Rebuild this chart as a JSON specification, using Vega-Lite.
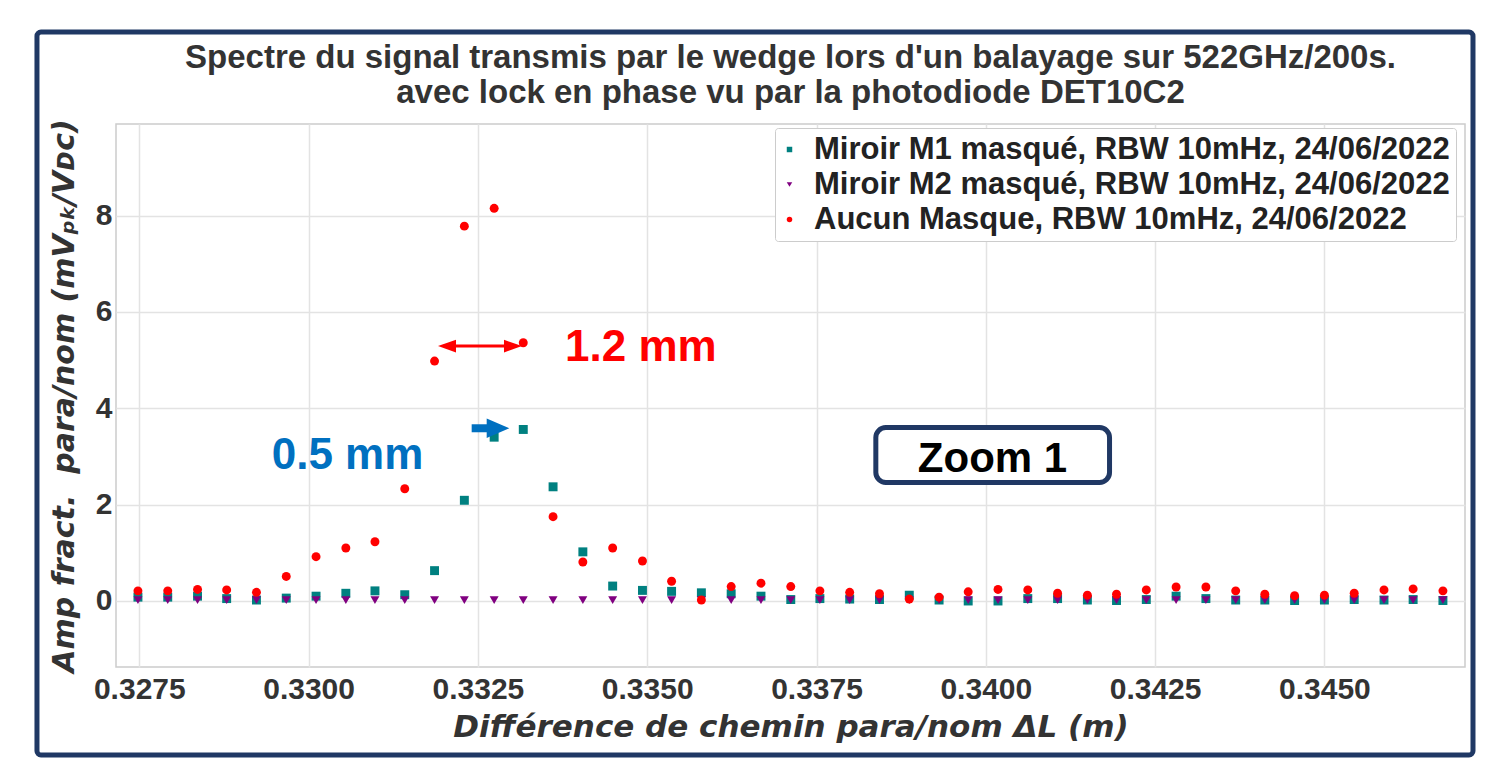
{
  "$schema": "https://vega.github.io/schema/vega-lite/v6.json",
  "width": 1349,
  "height": 543,
  "autosize": {"type": "none"},
  "padding": {"left": 116, "top": 124, "right": 32, "bottom": 97},
  "background": "white",
  "title": {
    "text": ["Spectre du signal transmis par le wedge lors d'un balayage sur 522GHz/200s.", "avec lock en phase vu par la photodiode DET10C2"],
    "anchor": "middle",
    "frame": "group"
  },
  "config": {
    "view": {"stroke": "#cccccc", "strokeWidth": 1.5},
    "title": {"font": "Liberation Sans", "fontSize": 33, "fontWeight": "bold", "color": "#333333", "lineHeight": 35, "offset": -81},
    "axis": {
      "domain": false, "ticks": false, "grid": true, "gridColor": "#e3e3e3", "gridWidth": 1.5,
      "labelFont": "Liberation Sans", "labelFontWeight": "bold", "labelFontSize": 30, "labelColor": "#333333",
      "titleFont": "DejaVu Sans", "titleFontWeight": "bold", "titleFontStyle": "italic", "titleFontSize": 30, "titleColor": "#333333",
      "labelFlush": false, "labelOverlap": false
    },
    "legend": {
      "labelFont": "Liberation Sans", "labelFontWeight": "bold", "labelFontSize": 31, "labelColor": "#222222",
      "labelLimit": 900, "symbolSize": 30, "strokeColor": "#cccccc", "fillColor": "white", "padding": 6,
      "cornerRadius": 3, "rowPadding": 3, "labelOffset": 9, "symbolOffset": -7
    }
  },
  "layer": [
    {
      "data": {"values": [{}]},
      "mark": {"type": "rect", "fill": "transparent", "stroke": "#1f3864", "strokeWidth": 5, "cornerRadius": 4},
      "encoding": {
        "x": {"datum": 0.325989, "type": "quantitative"},
        "x2": {"datum": 0.347194},
        "y": {"datum": 11.81, "type": "quantitative"},
        "y2": {"datum": -3.196}
      }
    },
    {
      "data": {"values": [
        {"serie": "Miroir M1 masqué, RBW 10mHz, 24/06/2022", "x": 0.32748, "y": 0.08},
        {"serie": "Miroir M1 masqué, RBW 10mHz, 24/06/2022", "x": 0.32792, "y": 0.08},
        {"serie": "Miroir M1 masqué, RBW 10mHz, 24/06/2022", "x": 0.32836, "y": 0.10},
        {"serie": "Miroir M1 masqué, RBW 10mHz, 24/06/2022", "x": 0.32879, "y": 0.05},
        {"serie": "Miroir M1 masqué, RBW 10mHz, 24/06/2022", "x": 0.32923, "y": 0.02},
        {"serie": "Miroir M1 masqué, RBW 10mHz, 24/06/2022", "x": 0.32967, "y": 0.06},
        {"serie": "Miroir M1 masqué, RBW 10mHz, 24/06/2022", "x": 0.33011, "y": 0.10},
        {"serie": "Miroir M1 masqué, RBW 10mHz, 24/06/2022", "x": 0.33055, "y": 0.16},
        {"serie": "Miroir M1 masqué, RBW 10mHz, 24/06/2022", "x": 0.33098, "y": 0.21},
        {"serie": "Miroir M1 masqué, RBW 10mHz, 24/06/2022", "x": 0.33142, "y": 0.13},
        {"serie": "Miroir M1 masqué, RBW 10mHz, 24/06/2022", "x": 0.33186, "y": 0.63},
        {"serie": "Miroir M1 masqué, RBW 10mHz, 24/06/2022", "x": 0.33230, "y": 2.09},
        {"serie": "Miroir M1 masqué, RBW 10mHz, 24/06/2022", "x": 0.33274, "y": 3.40},
        {"serie": "Miroir M1 masqué, RBW 10mHz, 24/06/2022", "x": 0.33317, "y": 3.56},
        {"serie": "Miroir M1 masqué, RBW 10mHz, 24/06/2022", "x": 0.33361, "y": 2.37},
        {"serie": "Miroir M1 masqué, RBW 10mHz, 24/06/2022", "x": 0.33405, "y": 1.02},
        {"serie": "Miroir M1 masqué, RBW 10mHz, 24/06/2022", "x": 0.33449, "y": 0.31},
        {"serie": "Miroir M1 masqué, RBW 10mHz, 24/06/2022", "x": 0.33493, "y": 0.22},
        {"serie": "Miroir M1 masqué, RBW 10mHz, 24/06/2022", "x": 0.33536, "y": 0.20},
        {"serie": "Miroir M1 masqué, RBW 10mHz, 24/06/2022", "x": 0.33580, "y": 0.17},
        {"serie": "Miroir M1 masqué, RBW 10mHz, 24/06/2022", "x": 0.33624, "y": 0.15},
        {"serie": "Miroir M1 masqué, RBW 10mHz, 24/06/2022", "x": 0.33668, "y": 0.10},
        {"serie": "Miroir M1 masqué, RBW 10mHz, 24/06/2022", "x": 0.33712, "y": 0.03},
        {"serie": "Miroir M1 masqué, RBW 10mHz, 24/06/2022", "x": 0.33755, "y": 0.05},
        {"serie": "Miroir M1 masqué, RBW 10mHz, 24/06/2022", "x": 0.33799, "y": 0.04},
        {"serie": "Miroir M1 masqué, RBW 10mHz, 24/06/2022", "x": 0.33843, "y": 0.03},
        {"serie": "Miroir M1 masqué, RBW 10mHz, 24/06/2022", "x": 0.33887, "y": 0.12},
        {"serie": "Miroir M1 masqué, RBW 10mHz, 24/06/2022", "x": 0.33931, "y": 0.02},
        {"serie": "Miroir M1 masqué, RBW 10mHz, 24/06/2022", "x": 0.33974, "y": 0.00},
        {"serie": "Miroir M1 masqué, RBW 10mHz, 24/06/2022", "x": 0.34018, "y": 0.00},
        {"serie": "Miroir M1 masqué, RBW 10mHz, 24/06/2022", "x": 0.34062, "y": 0.05},
        {"serie": "Miroir M1 masqué, RBW 10mHz, 24/06/2022", "x": 0.34106, "y": 0.05},
        {"serie": "Miroir M1 masqué, RBW 10mHz, 24/06/2022", "x": 0.34150, "y": 0.02},
        {"serie": "Miroir M1 masqué, RBW 10mHz, 24/06/2022", "x": 0.34193, "y": 0.01},
        {"serie": "Miroir M1 masqué, RBW 10mHz, 24/06/2022", "x": 0.34237, "y": 0.03},
        {"serie": "Miroir M1 masqué, RBW 10mHz, 24/06/2022", "x": 0.34281, "y": 0.10},
        {"serie": "Miroir M1 masqué, RBW 10mHz, 24/06/2022", "x": 0.34325, "y": 0.05},
        {"serie": "Miroir M1 masqué, RBW 10mHz, 24/06/2022", "x": 0.34369, "y": 0.02},
        {"serie": "Miroir M1 masqué, RBW 10mHz, 24/06/2022", "x": 0.34412, "y": 0.02},
        {"serie": "Miroir M1 masqué, RBW 10mHz, 24/06/2022", "x": 0.34456, "y": 0.01},
        {"serie": "Miroir M1 masqué, RBW 10mHz, 24/06/2022", "x": 0.34500, "y": 0.02},
        {"serie": "Miroir M1 masqué, RBW 10mHz, 24/06/2022", "x": 0.34544, "y": 0.03},
        {"serie": "Miroir M1 masqué, RBW 10mHz, 24/06/2022", "x": 0.34588, "y": 0.02},
        {"serie": "Miroir M1 masqué, RBW 10mHz, 24/06/2022", "x": 0.34631, "y": 0.03},
        {"serie": "Miroir M1 masqué, RBW 10mHz, 24/06/2022", "x": 0.34675, "y": 0.01},
        {"serie": "Miroir M2 masqué, RBW 10mHz, 24/06/2022", "x": 0.32748, "y": 0.02},
        {"serie": "Miroir M2 masqué, RBW 10mHz, 24/06/2022", "x": 0.32792, "y": 0.02},
        {"serie": "Miroir M2 masqué, RBW 10mHz, 24/06/2022", "x": 0.32836, "y": 0.02},
        {"serie": "Miroir M2 masqué, RBW 10mHz, 24/06/2022", "x": 0.32879, "y": 0.02},
        {"serie": "Miroir M2 masqué, RBW 10mHz, 24/06/2022", "x": 0.32923, "y": 0.02},
        {"serie": "Miroir M2 masqué, RBW 10mHz, 24/06/2022", "x": 0.32967, "y": 0.02},
        {"serie": "Miroir M2 masqué, RBW 10mHz, 24/06/2022", "x": 0.33011, "y": 0.02},
        {"serie": "Miroir M2 masqué, RBW 10mHz, 24/06/2022", "x": 0.33055, "y": 0.02},
        {"serie": "Miroir M2 masqué, RBW 10mHz, 24/06/2022", "x": 0.33098, "y": 0.02},
        {"serie": "Miroir M2 masqué, RBW 10mHz, 24/06/2022", "x": 0.33142, "y": 0.02},
        {"serie": "Miroir M2 masqué, RBW 10mHz, 24/06/2022", "x": 0.33186, "y": 0.02},
        {"serie": "Miroir M2 masqué, RBW 10mHz, 24/06/2022", "x": 0.33230, "y": 0.02},
        {"serie": "Miroir M2 masqué, RBW 10mHz, 24/06/2022", "x": 0.33274, "y": 0.02},
        {"serie": "Miroir M2 masqué, RBW 10mHz, 24/06/2022", "x": 0.33317, "y": 0.02},
        {"serie": "Miroir M2 masqué, RBW 10mHz, 24/06/2022", "x": 0.33361, "y": 0.02},
        {"serie": "Miroir M2 masqué, RBW 10mHz, 24/06/2022", "x": 0.33405, "y": 0.02},
        {"serie": "Miroir M2 masqué, RBW 10mHz, 24/06/2022", "x": 0.33449, "y": 0.02},
        {"serie": "Miroir M2 masqué, RBW 10mHz, 24/06/2022", "x": 0.33493, "y": 0.02},
        {"serie": "Miroir M2 masqué, RBW 10mHz, 24/06/2022", "x": 0.33536, "y": 0.02},
        {"serie": "Miroir M2 masqué, RBW 10mHz, 24/06/2022", "x": 0.33580, "y": 0.02},
        {"serie": "Miroir M2 masqué, RBW 10mHz, 24/06/2022", "x": 0.33624, "y": 0.02},
        {"serie": "Miroir M2 masqué, RBW 10mHz, 24/06/2022", "x": 0.33668, "y": 0.02},
        {"serie": "Miroir M2 masqué, RBW 10mHz, 24/06/2022", "x": 0.33712, "y": 0.02},
        {"serie": "Miroir M2 masqué, RBW 10mHz, 24/06/2022", "x": 0.33755, "y": 0.02},
        {"serie": "Miroir M2 masqué, RBW 10mHz, 24/06/2022", "x": 0.33799, "y": 0.02},
        {"serie": "Miroir M2 masqué, RBW 10mHz, 24/06/2022", "x": 0.33843, "y": 0.02},
        {"serie": "Miroir M2 masqué, RBW 10mHz, 24/06/2022", "x": 0.33887, "y": 0.02},
        {"serie": "Miroir M2 masqué, RBW 10mHz, 24/06/2022", "x": 0.33931, "y": 0.02},
        {"serie": "Miroir M2 masqué, RBW 10mHz, 24/06/2022", "x": 0.33974, "y": 0.02},
        {"serie": "Miroir M2 masqué, RBW 10mHz, 24/06/2022", "x": 0.34018, "y": 0.02},
        {"serie": "Miroir M2 masqué, RBW 10mHz, 24/06/2022", "x": 0.34062, "y": 0.02},
        {"serie": "Miroir M2 masqué, RBW 10mHz, 24/06/2022", "x": 0.34106, "y": 0.02},
        {"serie": "Miroir M2 masqué, RBW 10mHz, 24/06/2022", "x": 0.34150, "y": 0.02},
        {"serie": "Miroir M2 masqué, RBW 10mHz, 24/06/2022", "x": 0.34193, "y": 0.02},
        {"serie": "Miroir M2 masqué, RBW 10mHz, 24/06/2022", "x": 0.34237, "y": 0.02},
        {"serie": "Miroir M2 masqué, RBW 10mHz, 24/06/2022", "x": 0.34281, "y": 0.02},
        {"serie": "Miroir M2 masqué, RBW 10mHz, 24/06/2022", "x": 0.34325, "y": 0.02},
        {"serie": "Miroir M2 masqué, RBW 10mHz, 24/06/2022", "x": 0.34369, "y": 0.02},
        {"serie": "Miroir M2 masqué, RBW 10mHz, 24/06/2022", "x": 0.34412, "y": 0.02},
        {"serie": "Miroir M2 masqué, RBW 10mHz, 24/06/2022", "x": 0.34456, "y": 0.02},
        {"serie": "Miroir M2 masqué, RBW 10mHz, 24/06/2022", "x": 0.34500, "y": 0.02},
        {"serie": "Miroir M2 masqué, RBW 10mHz, 24/06/2022", "x": 0.34544, "y": 0.02},
        {"serie": "Miroir M2 masqué, RBW 10mHz, 24/06/2022", "x": 0.34588, "y": 0.02},
        {"serie": "Miroir M2 masqué, RBW 10mHz, 24/06/2022", "x": 0.34631, "y": 0.02},
        {"serie": "Miroir M2 masqué, RBW 10mHz, 24/06/2022", "x": 0.34675, "y": 0.02},
        {"serie": "Aucun Masque, RBW 10mHz, 24/06/2022", "x": 0.32748, "y": 0.21},
        {"serie": "Aucun Masque, RBW 10mHz, 24/06/2022", "x": 0.32792, "y": 0.21},
        {"serie": "Aucun Masque, RBW 10mHz, 24/06/2022", "x": 0.32836, "y": 0.24},
        {"serie": "Aucun Masque, RBW 10mHz, 24/06/2022", "x": 0.32879, "y": 0.23},
        {"serie": "Aucun Masque, RBW 10mHz, 24/06/2022", "x": 0.32923, "y": 0.18},
        {"serie": "Aucun Masque, RBW 10mHz, 24/06/2022", "x": 0.32967, "y": 0.51},
        {"serie": "Aucun Masque, RBW 10mHz, 24/06/2022", "x": 0.33011, "y": 0.92},
        {"serie": "Aucun Masque, RBW 10mHz, 24/06/2022", "x": 0.33055, "y": 1.10},
        {"serie": "Aucun Masque, RBW 10mHz, 24/06/2022", "x": 0.33098, "y": 1.23},
        {"serie": "Aucun Masque, RBW 10mHz, 24/06/2022", "x": 0.33142, "y": 2.33},
        {"serie": "Aucun Masque, RBW 10mHz, 24/06/2022", "x": 0.33186, "y": 4.98},
        {"serie": "Aucun Masque, RBW 10mHz, 24/06/2022", "x": 0.33230, "y": 7.78},
        {"serie": "Aucun Masque, RBW 10mHz, 24/06/2022", "x": 0.33274, "y": 8.15},
        {"serie": "Aucun Masque, RBW 10mHz, 24/06/2022", "x": 0.33317, "y": 5.36},
        {"serie": "Aucun Masque, RBW 10mHz, 24/06/2022", "x": 0.33361, "y": 1.75},
        {"serie": "Aucun Masque, RBW 10mHz, 24/06/2022", "x": 0.33405, "y": 0.81},
        {"serie": "Aucun Masque, RBW 10mHz, 24/06/2022", "x": 0.33449, "y": 1.10},
        {"serie": "Aucun Masque, RBW 10mHz, 24/06/2022", "x": 0.33493, "y": 0.83},
        {"serie": "Aucun Masque, RBW 10mHz, 24/06/2022", "x": 0.33536, "y": 0.41},
        {"serie": "Aucun Masque, RBW 10mHz, 24/06/2022", "x": 0.33580, "y": 0.02},
        {"serie": "Aucun Masque, RBW 10mHz, 24/06/2022", "x": 0.33624, "y": 0.30},
        {"serie": "Aucun Masque, RBW 10mHz, 24/06/2022", "x": 0.33668, "y": 0.37},
        {"serie": "Aucun Masque, RBW 10mHz, 24/06/2022", "x": 0.33712, "y": 0.30},
        {"serie": "Aucun Masque, RBW 10mHz, 24/06/2022", "x": 0.33755, "y": 0.21},
        {"serie": "Aucun Masque, RBW 10mHz, 24/06/2022", "x": 0.33799, "y": 0.18},
        {"serie": "Aucun Masque, RBW 10mHz, 24/06/2022", "x": 0.33843, "y": 0.15},
        {"serie": "Aucun Masque, RBW 10mHz, 24/06/2022", "x": 0.33887, "y": 0.04},
        {"serie": "Aucun Masque, RBW 10mHz, 24/06/2022", "x": 0.33931, "y": 0.08},
        {"serie": "Aucun Masque, RBW 10mHz, 24/06/2022", "x": 0.33974, "y": 0.19},
        {"serie": "Aucun Masque, RBW 10mHz, 24/06/2022", "x": 0.34018, "y": 0.24},
        {"serie": "Aucun Masque, RBW 10mHz, 24/06/2022", "x": 0.34062, "y": 0.23},
        {"serie": "Aucun Masque, RBW 10mHz, 24/06/2022", "x": 0.34106, "y": 0.16},
        {"serie": "Aucun Masque, RBW 10mHz, 24/06/2022", "x": 0.34150, "y": 0.12},
        {"serie": "Aucun Masque, RBW 10mHz, 24/06/2022", "x": 0.34193, "y": 0.14},
        {"serie": "Aucun Masque, RBW 10mHz, 24/06/2022", "x": 0.34237, "y": 0.23},
        {"serie": "Aucun Masque, RBW 10mHz, 24/06/2022", "x": 0.34281, "y": 0.29},
        {"serie": "Aucun Masque, RBW 10mHz, 24/06/2022", "x": 0.34325, "y": 0.29},
        {"serie": "Aucun Masque, RBW 10mHz, 24/06/2022", "x": 0.34369, "y": 0.21},
        {"serie": "Aucun Masque, RBW 10mHz, 24/06/2022", "x": 0.34412, "y": 0.14},
        {"serie": "Aucun Masque, RBW 10mHz, 24/06/2022", "x": 0.34456, "y": 0.11},
        {"serie": "Aucun Masque, RBW 10mHz, 24/06/2022", "x": 0.34500, "y": 0.12},
        {"serie": "Aucun Masque, RBW 10mHz, 24/06/2022", "x": 0.34544, "y": 0.16},
        {"serie": "Aucun Masque, RBW 10mHz, 24/06/2022", "x": 0.34588, "y": 0.23},
        {"serie": "Aucun Masque, RBW 10mHz, 24/06/2022", "x": 0.34631, "y": 0.25},
        {"serie": "Aucun Masque, RBW 10mHz, 24/06/2022", "x": 0.34675, "y": 0.21}
      ]},
      "mark": {"type": "point", "filled": true, "opacity": 1, "size": 80},
      "encoding": {
        "x": {
          "field": "x", "type": "quantitative",
          "scale": {"domain": [0.327156, 0.347076], "nice": false, "zero": false},
          "axis": {"values": [0.3275, 0.33, 0.3325, 0.335, 0.3375, 0.34, 0.3425, 0.345], "format": ".4f", "labelPadding": 7, "titlePadding": 8, "titleFontSize": 31, "title": "Différence de chemin para/nom ΔL (m)"}
        },
        "y": {
          "field": "y", "type": "quantitative",
          "scale": {"domain": [-1.37, 9.9], "nice": false, "zero": false},
          "axis": {"values": [0, 2, 4, 6, 8], "labelPadding": 4, "titlePadding": 16, "title": "Amp fract.\u00a0 para/nom (mVₚₖ/Vᴅᴄ)"}
        },
        "color": {
          "field": "serie", "type": "nominal",
          "scale": {"domain": ["Miroir M1 masqué, RBW 10mHz, 24/06/2022", "Miroir M2 masqué, RBW 10mHz, 24/06/2022", "Aucun Masque, RBW 10mHz, 24/06/2022"], "range": ["#008080", "#800080", "#ff0000"]},
          "legend": {"orient": "none", "legendX": 659, "legendY": 4, "title": null}
        },
        "shape": {
          "field": "serie", "type": "nominal",
          "scale": {"domain": ["Miroir M1 masqué, RBW 10mHz, 24/06/2022", "Miroir M2 masqué, RBW 10mHz, 24/06/2022", "Aucun Masque, RBW 10mHz, 24/06/2022"], "range": ["square", "triangle-down", "circle"]},
          "legend": {"orient": "none", "legendX": 659, "legendY": 4, "title": null}
        }
      }
    },
    {
      "data": {"values": [{}]},
      "mark": {"type": "rule", "color": "#ff0000", "strokeWidth": 3},
      "encoding": {
        "x": {"datum": 0.332044, "type": "quantitative"},
        "x2": {"datum": 0.333018},
        "y": {"datum": 5.29, "type": "quantitative"}
      }
    },
    {
      "data": {"values": [{}]},
      "mark": {"type": "point", "filled": true, "opacity": 1, "color": "#ff0000", "shape": "M-1,0 L1,-0.7 L1,0.7 Z", "size": 324},
      "encoding": {
        "x": {"datum": 0.332044, "type": "quantitative"},
        "y": {"datum": 5.29, "type": "quantitative"}
      }
    },
    {
      "data": {"values": [{}]},
      "mark": {"type": "point", "filled": true, "opacity": 1, "color": "#ff0000", "shape": "M1,0 L-1,-0.7 L-1,0.7 Z", "size": 324},
      "encoding": {
        "x": {"datum": 0.333018, "type": "quantitative"},
        "y": {"datum": 5.29, "type": "quantitative"}
      }
    },
    {
      "data": {"values": [{}]},
      "mark": {"type": "rule", "color": "#0070c0", "strokeWidth": 8},
      "encoding": {
        "x": {"datum": 0.332408, "type": "quantitative"},
        "x2": {"datum": 0.332708},
        "y": {"datum": 3.585, "type": "quantitative"}
      }
    },
    {
      "data": {"values": [{}]},
      "mark": {"type": "point", "filled": true, "opacity": 1, "color": "#0070c0", "shape": "M1,0 L-1,-0.87 L-1,0.87 Z", "size": 511},
      "encoding": {
        "x": {"datum": 0.332797, "type": "quantitative"},
        "y": {"datum": 3.585, "type": "quantitative"}
      }
    },
    {
      "data": {"values": [{}]},
      "mark": {"type": "text", "text": "1.2 mm", "color": "#ff0000", "font": "Liberation Sans", "fontWeight": "bold", "fontSize": 44, "align": "left", "baseline": "alphabetic"},
      "encoding": {
        "x": {"datum": 0.333786, "type": "quantitative"},
        "y": {"datum": 4.99, "type": "quantitative"}
      }
    },
    {
      "data": {"values": [{}]},
      "mark": {"type": "text", "text": "0.5 mm", "color": "#0070c0", "font": "Liberation Sans", "fontWeight": "bold", "fontSize": 44, "align": "left", "baseline": "alphabetic"},
      "encoding": {
        "x": {"datum": 0.329455, "type": "quantitative"},
        "y": {"datum": 2.73, "type": "quantitative"}
      }
    },
    {
      "data": {"values": [{}]},
      "mark": {"type": "rect", "fill": "white", "stroke": "#203864", "strokeWidth": 5, "cornerRadius": 10},
      "encoding": {
        "x": {"datum": 0.338376, "type": "quantitative"},
        "x2": {"datum": 0.341827},
        "y": {"datum": 3.601, "type": "quantitative"},
        "y2": {"datum": 2.4595}
      }
    },
    {
      "data": {"values": [{}]},
      "mark": {"type": "text", "text": "Zoom 1", "color": "#000000", "font": "Liberation Sans", "fontWeight": "bold", "fontSize": 42, "align": "center", "baseline": "alphabetic"},
      "encoding": {
        "x": {"datum": 0.340099, "type": "quantitative"},
        "y": {"datum": 2.684, "type": "quantitative"}
      }
    }
  ]
}
